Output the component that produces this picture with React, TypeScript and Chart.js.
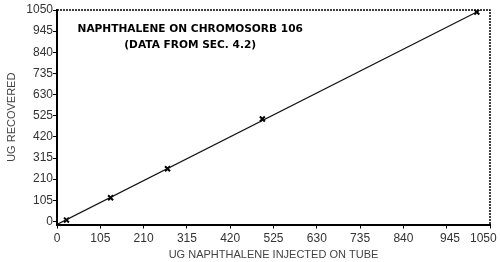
import React, { useEffect, useRef } from "react";
import { Chart, registerables } from "chart.js";

Chart.register(...registerables);

const injected = [23, 130, 268, 498, 1018];
const recovered = [7, 118, 262, 509, 1040];
const fitX = [0, 1018];
const fitY = [-15, 1040];
const tickValues = [0, 105, 210, 315, 420, 525, 630, 735, 840, 945, 1050];
const xTickLabels = ["0", "105", "210", "315", "420", "525", "630", "735", "840", "  945", "1050    "];
const yTickLabels = ["0", "105", "210", "315", "420", "525", "630", "735", "840", "945", "1050"];
const titleLines = ["NAPHTHALENE ON CHROMOSORB 106", "(DATA FROM SEC. 4.2)"];
const xTitle = "UG NAPHTHALENE INJECTED ON TUBE";
const yTitle = "UG RECOVERED";

const frame = {
  id: "frame",
  afterDatasetsDraw(chart: any) {
    const { ctx, chartArea } = chart;
    ctx.save();
    ctx.strokeStyle = "#000";
    ctx.lineWidth = 1.5;
    ctx.setLineDash([2, 1]);
    ctx.beginPath();
    ctx.moveTo(chartArea.left, chartArea.top);
    ctx.lineTo(chartArea.right, chartArea.top);
    ctx.lineTo(chartArea.right, chartArea.bottom);
    ctx.stroke();
    ctx.setLineDash([]);
    ctx.fillStyle = "#000";
    ctx.font = "bold 10.6px 'DejaVu Sans'";
    ctx.textAlign = "center";
    ctx.textBaseline = "middle";
    const cx = chart.scales.x.getPixelForValue(323);
    ctx.fillText(titleLines[0], cx, 29);
    ctx.fillText(titleLines[1], cx, 45);
    ctx.restore();
  },
};

export default function App() {
  const ref = useRef<HTMLCanvasElement>(null);
  useEffect(() => {
    document.body.style.margin = "0";
    const chart = new Chart(ref.current!, {
      type: "scatter",
      data: {
        datasets: [
          {
            type: "line",
            data: fitX.map((x, i) => ({ x, y: fitY[i] })),
            borderColor: "#111",
            borderWidth: 1.2,
            pointRadius: 0,
            fill: false,
          },
          {
            data: injected.map((x, i) => ({ x, y: recovered[i] })),
            pointStyle: "crossRot",
            pointRadius: 3.5,
            borderColor: "#000",
            backgroundColor: "#000",
            borderWidth: 2,
          },
        ],
      },
      options: {
        animation: false,
        responsive: false,
        layout: { padding: { top: 10, right: 10, left: 0, bottom: 0 } },
        plugins: { legend: { display: false }, tooltip: { enabled: false } },
        scales: {
          x: {
            type: "linear",
            min: 0,
            max: 1050,
            afterBuildTicks: (s: any) => {
              s.ticks = tickValues.map((v) => ({ value: v }));
            },
            afterFit: (s: any) => {
              s.height = 37.5;
              s.paddingRight = 0;
              s.paddingLeft = 0;
            },
            border: { color: "#000", width: 2 },
            grid: { drawOnChartArea: false, drawTicks: true, tickLength: 4, color: "#000" },
            ticks: {
              autoSkip: false,
              maxRotation: 0,
              padding: 3,
              color: "#333",
              font: { family: "'Liberation Sans', Arial", size: 12 },
              callback: (v: any, i: number) => xTickLabels[i],
            },
            title: {
              display: true,
              text: xTitle,
              color: "#444",
              font: { family: "'Liberation Sans', Arial", size: 11 },
              padding: { top: 4, bottom: 0 },
            },
          },
          y: {
            type: "linear",
            min: -15,
            max: 1050,
            afterBuildTicks: (s: any) => {
              s.ticks = tickValues.map((v) => ({ value: v }));
            },
            afterFit: (s: any) => {
              s.width = 57;
              s.paddingTop = 0;
              s.paddingBottom = 0;
            },
            border: { color: "#000", width: 2 },
            grid: { drawOnChartArea: false, drawTicks: true, tickLength: 4, color: "#000" },
            ticks: {
              autoSkip: false,
              padding: 0,
              color: "#333",
              font: { family: "'Liberation Sans', Arial", size: 12 },
              callback: (v: any, i: number) => yTickLabels[i],
            },
            title: {
              display: true,
              text: yTitle,
              color: "#444",
              font: { family: "'Liberation Sans', Arial", size: 11 },
              padding: { top: 5, bottom: 0 },
            },
          },
        },
      },
      plugins: [frame],
    } as any);
    return () => chart.destroy();
  }, []);
  return (
    <div style={{ width: 500, height: 262, background: "#fff" }}>
      <canvas ref={ref} width={500} height={262} />
    </div>
  );
}
